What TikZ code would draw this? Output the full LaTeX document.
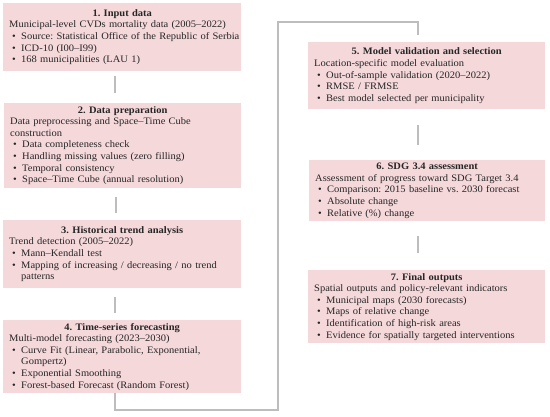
\documentclass[tikz,border=0pt]{standalone}
\usepackage{fontspec}
\setmainfont{Liberation Serif}[FakeStretch=1.06]
\frenchspacing
\definecolor{boxpink}{HTML}{F5D8DA}
\definecolor{linegray}{HTML}{BDBDBD}
\definecolor{txtcol}{HTML}{262626}
\newcommand\bitem[1]{\par\hangindent=12pt\hangafter=1\noindent\hbox to 12pt{\hskip3pt\textbullet\hfil}#1\par}
\newcommand\brk{\hfil\break}
\newcommand\boxtitle[1]{{\centering\bfseries #1\par}\raggedright\noindent}
\tikzset{
  stagebox/.style={fill=boxpink, draw=none, anchor=north west, inner xsep=6pt, inner ysep=3pt,
    font=\fontsize{9.9pt}{11.6pt}\selectfont\frenchspacing, text=txtcol},
  conn/.style={draw=linegray, line width=1.8pt},
}
\begin{document}
\begin{tikzpicture}[x=1pt,y=-1pt]
\useasboundingbox (0,0) rectangle (550,417);
\fill[white] (0,0) rectangle (550,417);

\node[stagebox, text width=226pt, minimum height=68pt] (b1) at (3,3) {%
\boxtitle{1. Input data}\mbox{Municipal-level CVDs mortality data (2005–2022)}
\bitem{\mbox{Source: Statistical Office of the Republic of Serbia}}
\bitem{ICD-10 (I00–I99)}
\bitem{168 municipalities (LAU 1)}};

\node[stagebox, text width=225pt, minimum height=84pt] (b2) at (4,103) {%
\boxtitle{2. Data preparation}Data preprocessing and Space–Time Cube\brk construction
\bitem{Data completeness check}
\bitem{Handling missing values (zero filling)}
\bitem{Temporal consistency}
\bitem{Space–Time Cube (annual resolution)}};

\node[stagebox, text width=226pt, minimum height=68pt] (b3) at (3,220) {%
\boxtitle{3. Historical trend analysis}Trend detection (2005–2022)
\bitem{Mann–Kendall test}
\bitem{Mapping of increasing / decreasing / no trend\brk patterns}};

\node[stagebox, text width=226pt, minimum height=68pt] (b4) at (3,320) {%
\boxtitle{4. Time-series forecasting}Multi-model forecasting (2023–2030)
\bitem{Curve Fit (Linear, Parabolic, Exponential,\brk Gompertz)}
\bitem{Exponential Smoothing}
\bitem{Forest-based Forecast (Random Forest)}};

\node[stagebox, text width=225pt, minimum height=67pt] (b5) at (308,42) {%
\boxtitle{5. Model validation and selection}Location-specific model evaluation
\bitem{Out-of-sample validation (2020–2022)}
\bitem{RMSE / FRMSE}
\bitem{Best model selected per municipality}};

\node[stagebox, text width=224pt, minimum height=60pt] (b6) at (309,160) {%
\boxtitle{6. SDG 3.4 assessment}\mbox{Assessment of progress toward SDG Target 3.4}
\bitem{\mbox{Comparison: 2015 baseline vs. 2030 forecast}}
\bitem{Absolute change}
\bitem{Relative (\%) change}};

\node[stagebox, text width=225pt, minimum height=68pt] (b7) at (308,270) {%
\boxtitle{7. Final outputs}\mbox{Spatial outputs and policy-relevant indicators}
\bitem{Municipal maps (2030 forecasts)}
\bitem{Maps of relative change}
\bitem{Identification of high-risk areas}
\bitem{\mbox{Evidence for spatially targeted interventions}}};

\coordinate (c1) at (278,410);
\coordinate (c2) at (278,22);

\draw[conn, shorten <=5pt, shorten >=10pt] ([xshift=-7pt]b1.south) -- ([xshift=-7pt]b1.south |- b2.north);
\draw[conn, shorten <=9pt, shorten >=7pt] ([xshift=-7pt]b2.south) -- ([xshift=-7pt]b2.south |- b3.north);
\draw[conn, shorten <=9pt, shorten >=7pt] ([xshift=-7pt]b3.south) -- ([xshift=-7pt]b3.south |- b4.north);
\draw[conn, shorten >=7pt] ([xshift=-7pt]b4.south) |- (c1) -- (c2) -| ([xshift=-9pt]b5.north);
\draw[conn, shorten <=16pt, shorten >=15pt] ([xshift=-9pt]b5.south) -- ([xshift=-9pt]b5.south |- b6.north);
\draw[conn, shorten <=15pt, shorten >=17pt] ([xshift=-9pt]b6.south) -- ([xshift=-9pt]b6.south |- b7.north);
\end{tikzpicture}
\end{document}
